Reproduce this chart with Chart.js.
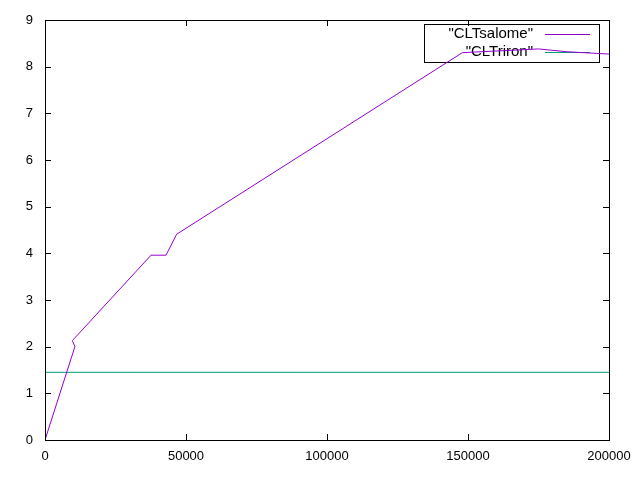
<!DOCTYPE html>
<html>
<head>
<meta charset="utf-8">
<script src="https://cdn.jsdelivr.net/npm/chart.js"></script>
<style>
  html, body { margin: 0; padding: 0; background: #fff; }
  canvas { display: block; }
</style>
</head>
<body>
<canvas id="plot" width="640" height="480"></canvas>
<script>
// ---- data ----
const salomeX = [0, 10600, 9700, 37600, 42900, 46700, 148000, 175000, 185000, 200000];
const salomeY = [0, 2.0, 2.13, 3.96, 3.96, 4.41, 8.3, 8.38, 8.32, 8.27];
const rironX  = [0, 200000];
const rironY  = [1.45, 1.45];

const xTicks = [0, 50000, 100000, 150000, 200000];
const yTicks = [0, 1, 2, 3, 4, 5, 6, 7, 8, 9];

const FONT = "'Liberation Sans', Arial, sans-serif";

// build {x,y} points for the line charts
const toPoints = (xs, ys) => xs.map((x, i) => ({ x: x, y: ys[i] }));

// ── gnuplot look: border + inward ticks on all four sides ──
const borderTicks = {
  id: 'borderTicks',
  afterDraw(chart) {
    const { ctx, chartArea: a, scales } = chart;
    const len = 6;
    ctx.save();
    ctx.strokeStyle = '#000';
    ctx.lineWidth = 1;
    ctx.beginPath();
    xTicks.forEach(v => {
      const px = Math.round(scales.x.getPixelForValue(v)) + 0.5;
      ctx.moveTo(px, a.bottom); ctx.lineTo(px, a.bottom - len);
      ctx.moveTo(px, a.top);    ctx.lineTo(px, a.top + len);
    });
    yTicks.forEach(v => {
      const py = Math.round(scales.y.getPixelForValue(v)) + 0.5;
      ctx.moveTo(a.left, py);  ctx.lineTo(a.left + len, py);
      ctx.moveTo(a.right, py); ctx.lineTo(a.right - len, py);
    });
    ctx.stroke();
    ctx.strokeRect(Math.round(a.left) + 0.5, Math.round(a.top) + 0.5,
                   Math.round(a.right - a.left), Math.round(a.bottom - a.top));
    ctx.restore();
  }
};

// ── key box drawn before the curves, like gnuplot does ──
const keyBox = {
  id: 'keyBox',
  beforeDatasetsDraw(chart) {
    const ctx = chart.ctx;
    const rows = [34, 52];
    ctx.save();
    ctx.strokeStyle = '#000';
    ctx.lineWidth = 1;
    ctx.strokeRect(424.5, 24.5, 175, 38);
    ctx.font = '15px ' + FONT;
    ctx.textAlign = 'right';
    ctx.textBaseline = 'middle';
    ctx.fillStyle = '#000';
    chart.data.datasets.forEach((ds, i) => {
      ctx.fillText('"' + ds.label + '"', 533, rows[i]);
      ctx.strokeStyle = ds.borderColor;
      ctx.beginPath();
      ctx.moveTo(545, rows[i] + 0.5);
      ctx.lineTo(590, rows[i] + 0.5);
      ctx.stroke();
    });
    ctx.restore();
  }
};

new Chart(document.getElementById('plot'), {
  type: 'line',
  data: {
    datasets: [
      {
        label: 'CLTsalome',
        data: toPoints(salomeX, salomeY),
        borderColor: '#9400d3',
        borderWidth: 1,
        pointRadius: 0,
        tension: 0,
      },
      {
        label: 'CLTriron',
        data: toPoints(rironX, rironY),
        borderColor: '#009e73',
        borderWidth: 1,
        pointRadius: 0,
        tension: 0,
      }
    ]
  },
  options: {
    responsive: false,
    devicePixelRatio: 1,
    animation: false,
    layout: { padding: { top: 20, right: 31, left: 0, bottom: 0 } },
    plugins: {
      legend: { display: false },
      tooltip: { enabled: false }
    },
    scales: {
      x: {
        type: 'linear',
        min: 0,
        max: 200000,
        afterFit: (s) => { s.height = 40; },
        afterBuildTicks: (s) => { s.ticks = xTicks.map(v => ({ value: v })); },
        grid: { display: false, drawTicks: false },
        border: { display: false },
        ticks: {
          color: '#000',
          padding: 9,
          maxRotation: 0,
          font: { family: FONT, size: 13 },
          callback: (v) => String(v)
        }
      },
      y: {
        type: 'linear',
        min: 0,
        max: 9,
        afterFit: (s) => { s.width = 45; },
        afterBuildTicks: (s) => { s.ticks = yTicks.map(v => ({ value: v })); },
        grid: { display: false, drawTicks: false },
        border: { display: false },
        ticks: {
          color: '#000',
          padding: 12,
          font: { family: FONT, size: 13 },
          callback: (v) => String(v)
        }
      }
    }
  },
  plugins: [keyBox, borderTicks]
});
</script>
</body>
</html>
